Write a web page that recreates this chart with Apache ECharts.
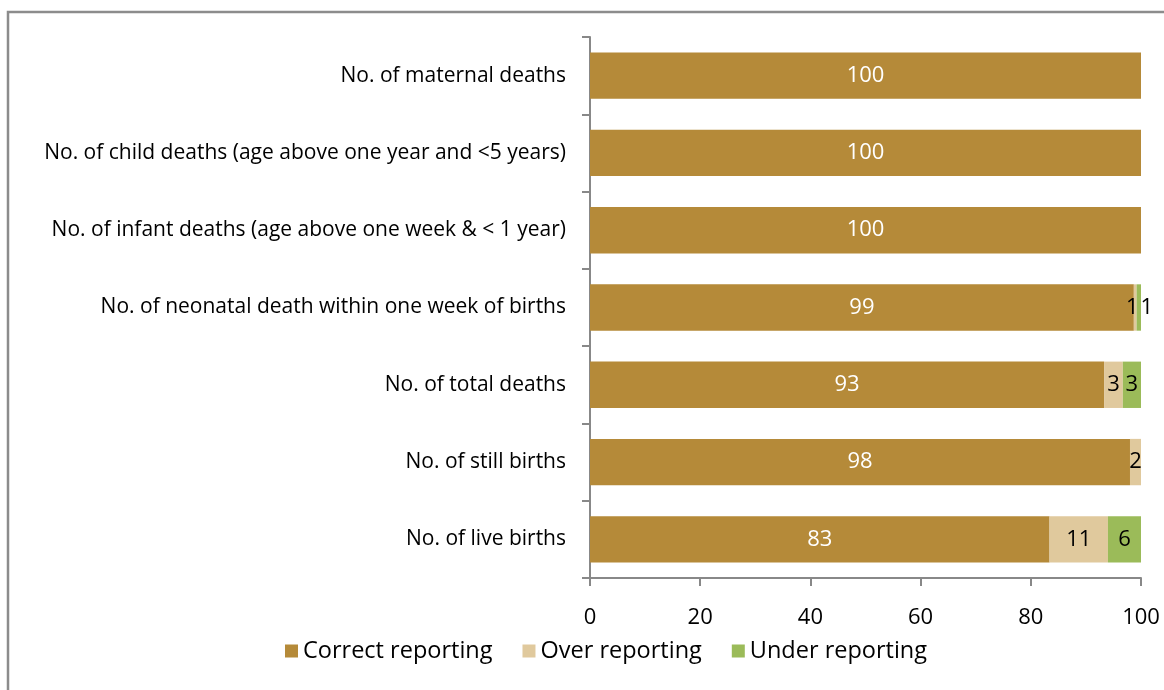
<!DOCTYPE html>
<html><head><meta charset="utf-8">
<script src="https://cdn.jsdelivr.net/npm/echarts@6/dist/echarts.min.js"></script>
<style>html,body{margin:0;padding:0;background:#fff}#c{width:1164px;height:690px}</style>
</head><body><div id="c"></div>
<script>
const categories = [
  'No. of live births',
  'No. of still births',
  'No. of total deaths',
  'No. of neonatal death within one week of births',
  'No. of infant deaths (age above one week & < 1 year)',
  'No. of child deaths (age above one year and <5 years)',
  'No. of maternal deaths'
];
const seriesNames = ['Correct reporting', 'Over reporting', 'Under reporting'];
const correct = [83.4, 98.0, 93.3, 98.7, 100, 100, 100];
const over    = [10.6, 2.0, 3.4, 0.5, 0, 0, 0];
const under   = [6.0, 0, 3.3, 0.8, 0, 0, 0];
const xTicks = [0, 20, 40, 60, 80, 100];

const colors = ['#b58a39', '#e0c99d', '#9bbb59'];
const FONT = '"Open Sans", sans-serif';
const chart = echarts.init(document.getElementById('c'));
const fmt = p => (p.value > 0 ? String(Math.round(p.value)) : '');
function mk(name, data, color, labelColor) {
  return {
    name, type: 'bar', stack: 'all', data,
    itemStyle: { color },
    barCategoryGap: '40%',
    label: { show: true, position: 'inside', color: labelColor, fontSize: 22, fontFamily: FONT, formatter: fmt },
    emphasis: { disabled: true }
  };
}
// small label nudge so the two tiny neonatal labels sit side by side
const underData = under.map((v, i) => i === 3 ? { value: v, label: { offset: [8, 0] } } : v);
const overData = over.map((v, i) => i === 3 ? { value: v, label: { offset: [-3, 0] } } : v);
chart.setOption({
  animation: false,
  textStyle: { fontFamily: FONT },
  graphic: [{ type: 'rect', shape: { x: 8, y: 12, width: 1200, height: 720 }, style: { fill: 'none', stroke: '#8c8c8c', lineWidth: 2.5 }, silent: true }],
  grid: { left: 590, right: 23, top: 37, bottom: 112, containLabel: false },
  legend: {
    data: seriesNames, bottom: 22, left: 280, itemWidth: 13, itemHeight: 13, itemGap: 30,
    icon: 'rect', textStyle: { fontSize: 23.5, color: '#000', fontFamily: FONT }
  },
  xAxis: {
    type: 'value', min: 0, max: 100, interval: 20,
    axisLine: { show: true, lineStyle: { color: '#888', width: 2 } },
    axisTick: { show: true, length: 8, lineStyle: { color: '#888', width: 2 } },
    splitLine: { show: false },
    axisLabel: { fontSize: 22, color: '#000', margin: 29, fontFamily: FONT, formatter: v => xTicks.includes(v) ? String(v) : '' }
  },
  yAxis: {
    type: 'category', data: categories,
    axisLine: { show: true, lineStyle: { color: '#888', width: 2 } },
    axisTick: { show: true, length: 8, lineStyle: { color: '#888', width: 2 } },
    axisLabel: { fontSize: 21, color: '#000', margin: 24, fontFamily: FONT }
  },
  series: [
    mk(seriesNames[0], correct, colors[0], '#fff'),
    mk(seriesNames[1], overData, colors[1], '#000'),
    mk(seriesNames[2], underData, colors[2], '#000')
  ]
});
</script></body></html>
